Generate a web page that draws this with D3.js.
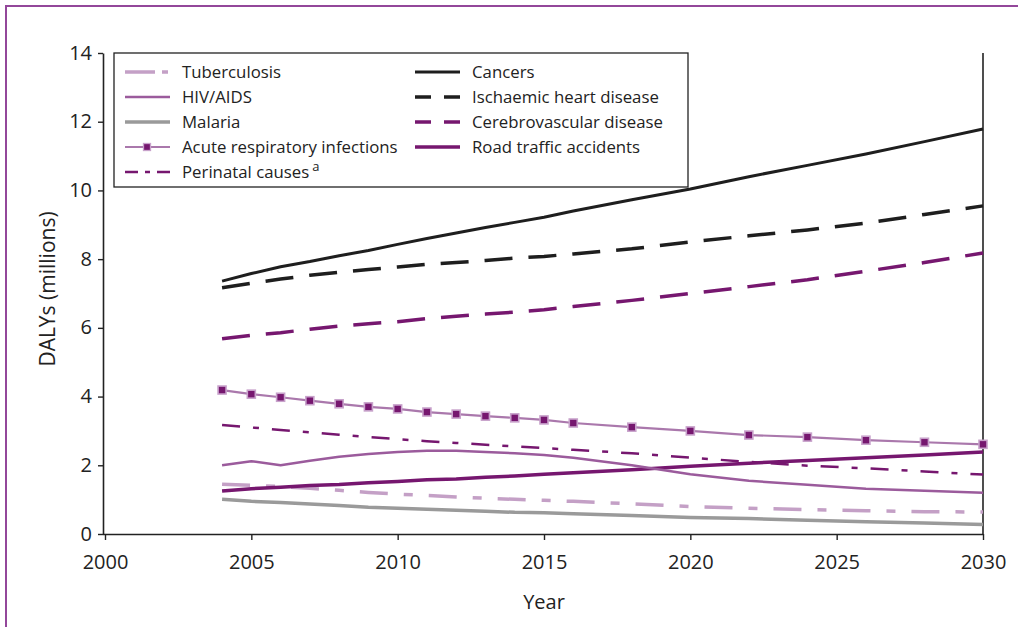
<!DOCTYPE html>
<html><head><meta charset="utf-8">
<script src="https://cdn.jsdelivr.net/npm/d3@7"></script>
<style>body{margin:0;background:#fff}svg{display:block}text{font-family:"Open Sans",sans-serif;fill:#222}</style>
</head><body><svg id="c" width="1018" height="627"></svg>
<script>
const years = [2004,2005,2006,2007,2008,2009,2010,2011,2012,2013,2014,2015,2016,2018,2020,2022,2024,2026,2028,2030];
const tuberculosis = [1.45,1.42,1.38,1.33,1.27,1.21,1.16,1.12,1.08,1.04,1.01,0.98,0.95,0.88,0.80,0.75,0.71,0.68,0.65,0.64];
const hivAids = [2.0,2.12,2.0,2.13,2.25,2.33,2.39,2.42,2.42,2.39,2.35,2.30,2.22,2.0,1.74,1.55,1.43,1.32,1.26,1.20];
const malaria = [1.01,0.95,0.92,0.87,0.83,0.78,0.75,0.72,0.69,0.66,0.63,0.62,0.59,0.54,0.48,0.45,0.40,0.36,0.32,0.28];
const acuteResp = [4.19,4.07,3.98,3.88,3.79,3.70,3.64,3.55,3.49,3.43,3.38,3.32,3.23,3.11,3.00,2.88,2.82,2.73,2.67,2.61];
const perinatal = [3.17,3.10,3.03,2.96,2.89,2.82,2.76,2.70,2.65,2.60,2.55,2.50,2.45,2.35,2.22,2.10,1.99,1.91,1.82,1.73];
const cancers = [7.36,7.58,7.78,7.93,8.10,8.25,8.43,8.60,8.76,8.92,9.07,9.22,9.40,9.73,10.04,10.40,10.73,11.06,11.42,11.79];
const ischaemic = [7.17,7.30,7.42,7.53,7.62,7.70,7.77,7.85,7.90,7.96,8.03,8.08,8.15,8.30,8.50,8.68,8.85,9.05,9.30,9.55];
const cerebro = [5.68,5.78,5.86,5.96,6.05,6.12,6.18,6.27,6.34,6.40,6.46,6.53,6.62,6.80,7.00,7.20,7.40,7.65,7.90,8.18];
const roadTraffic = [1.25,1.32,1.36,1.41,1.44,1.49,1.53,1.58,1.60,1.65,1.69,1.74,1.78,1.87,1.97,2.06,2.14,2.22,2.30,2.39];
const xTicks = [2000,2005,2010,2015,2020,2025,2030];
const yTicks = [0,2,4,6,8,10,12,14];

const DARK = "#76176f";
const series = [
  {name:"Tuberculosis", values:tuberculosis, color:"#c4a0c6", width:3.5, dash:"28,16,9,16", ldash:"30,7,6,2", col:0, row:0},
  {name:"HIV/AIDS", values:hivAids, color:"#9b5b9c", width:2.5, dash:null, col:0, row:1},
  {name:"Malaria", values:malaria, color:"#9a9a9a", width:3.5, dash:null, col:0, row:2},
  {name:"Acute respiratory infections", values:acuteResp, color:"#aa78ac", width:2.2, dash:null, col:0, row:3, marker:true},
  {name:"Perinatal causes", sup:"a", values:perinatal, color:DARK, width:2.5, dash:"18,13,6,13", ldash:"13,7,5,7,13", col:0, row:4},
  {name:"Cancers", values:cancers, color:"#1e1e1e", width:3, dash:null, col:1, row:0},
  {name:"Ischaemic heart disease", values:ischaemic, color:"#1e1e1e", width:3.5, dash:"28,16", ldash:"16,13,16", col:1, row:1},
  {name:"Cerebrovascular disease", values:cerebro, color:DARK, width:3.5, dash:"28,16", ldash:"16,13,16", col:1, row:2},
  {name:"Road traffic accidents", values:roadTraffic, color:DARK, width:3.5, dash:null, col:1, row:3}
];
const drawOrder = [2,0,8,1,4,3,7,6,5];

const svg = d3.select("#c");
// outer purple frame
svg.append("line").attr("x1",5).attr("x2",1018).attr("y1",6).attr("y2",6).attr("stroke","#93479a").attr("stroke-width",2);
svg.append("line").attr("x1",6).attr("x2",6).attr("y1",6).attr("y2",627).attr("stroke","#93479a").attr("stroke-width",2);

const x = d3.scaleLinear().domain([2000,2030]).range([105,983]);
const y = d3.scaleLinear().domain([0,14]).range([534,53]);

const xAxis = svg.append("g").attr("transform","translate(0,534)")
  .call(d3.axisBottom(x).tickValues(xTicks).tickFormat(d3.format("d")).tickSize(6).tickSizeOuter(0));
const yAxis = svg.append("g").attr("transform","translate(103,0)")
  .call(d3.axisLeft(y).tickValues(yTicks).tickSize(5).tickSizeOuter(0));
[xAxis,yAxis].forEach(g=>{
  g.select(".domain").attr("stroke","#222").attr("stroke-width",1.6);
  g.selectAll(".tick line").attr("stroke","#222").attr("stroke-width",1.4);
  g.selectAll(".tick text").attr("font-size",20).attr("fill","#222").attr("font-family","'Open Sans',sans-serif");
});
xAxis.select(".domain").attr("d","M103,0.5H983");
xAxis.selectAll(".tick text").attr("dy","1.3em");
yAxis.selectAll(".tick text").attr("x",-11).attr("dy","0.3em");
// right frame line
svg.append("line").attr("x1",983).attr("x2",983).attr("y1",53).attr("y2",534).attr("stroke","#222").attr("stroke-width",1.6);

svg.append("text").attr("x",544).attr("y",609).attr("text-anchor","middle").attr("font-size",20).text("Year");
svg.append("text").attr("transform","translate(55,289) rotate(-90)").attr("text-anchor","middle").attr("font-size",21).text("DALYs (millions)");

const line = d3.line().x((d,i)=>x(years[i])).y(d=>y(d));
drawOrder.forEach(k=>{
  const s = series[k];
  svg.append("path").datum(s.values).attr("d",line).attr("fill","none")
    .attr("stroke",s.color).attr("stroke-width",s.width)
    .attr("stroke-dasharray",s.dash).attr("stroke-linejoin","round");
  if(s.marker){
    svg.selectAll(null).data(s.values).enter().append("rect")
      .attr("x",(d,i)=>x(years[i])-4).attr("y",d=>y(d)-4).attr("width",8).attr("height",8)
      .attr("fill",DARK).attr("stroke","#c8a2cb").attr("stroke-width",1.6);
  }
});

// legend
svg.append("rect").attr("x",114).attr("y",53).attr("width",574).attr("height",134)
  .attr("fill","#fff").attr("stroke","#222").attr("stroke-width",1.3);
const colX = [125,415], rowY = [72,97,122,147,172];
series.forEach(s=>{
  const x0 = colX[s.col], yy = rowY[s.row];
  svg.append("line").attr("x1",x0).attr("x2",x0+45).attr("y1",yy).attr("y2",yy)
    .attr("stroke",s.color).attr("stroke-width",s.width).attr("stroke-dasharray",s.ldash||null);
  if(s.marker){
    svg.append("rect").attr("x",x0+18.5).attr("y",yy-3.5).attr("width",7).attr("height",7)
      .attr("fill",DARK).attr("stroke","#c8a2cb").attr("stroke-width",1.3);
  }
  const t = svg.append("text").attr("x",x0+57).attr("y",yy).attr("dy","0.35em").attr("font-size",16.8).text(s.name);
  if(s.sup){ t.append("tspan").attr("dx",3).attr("dy","-0.5em").attr("font-size",13).text(s.sup); }
});
</script></body></html>
